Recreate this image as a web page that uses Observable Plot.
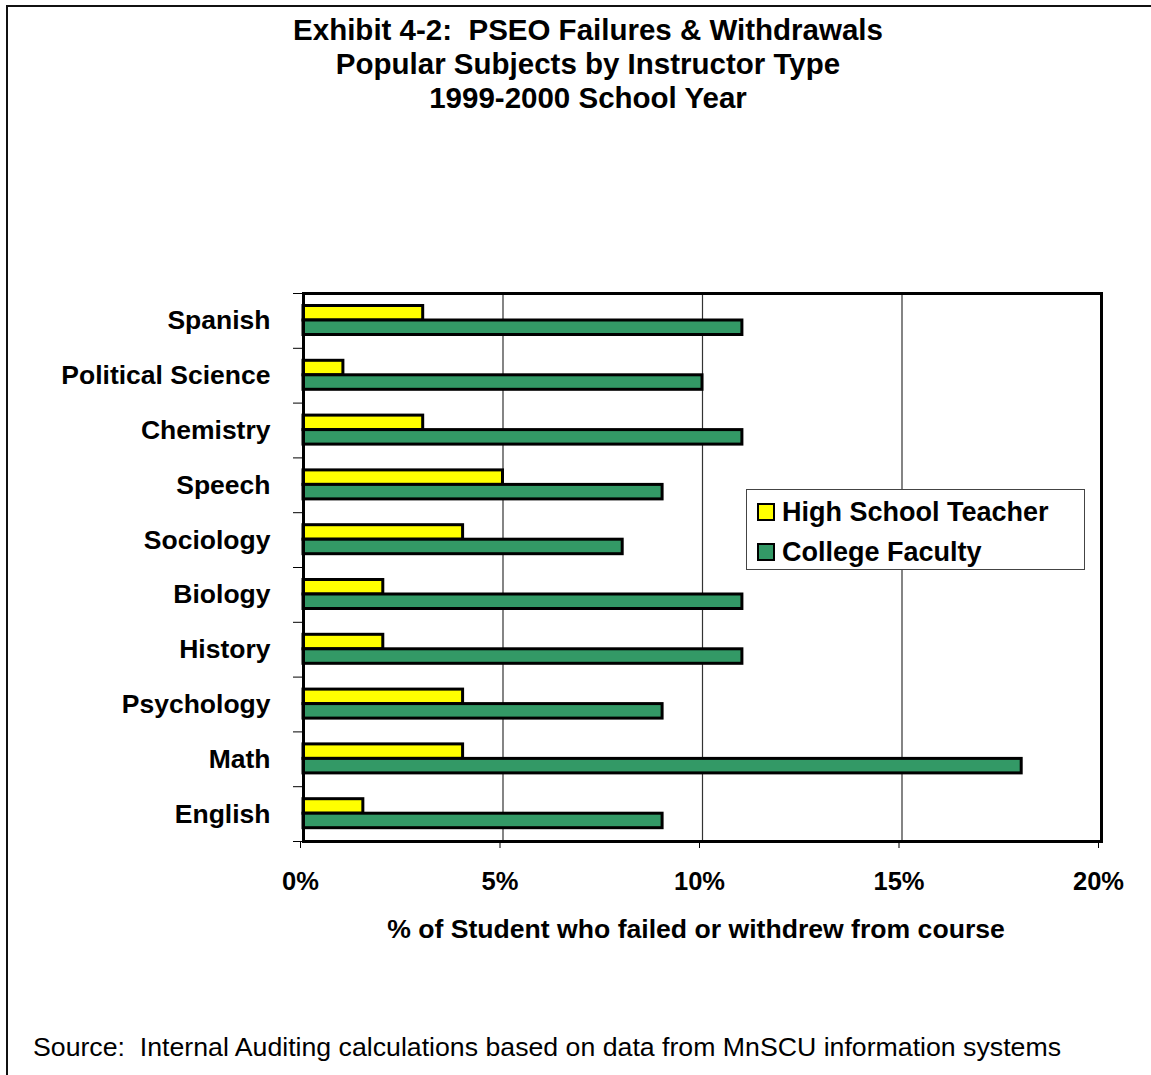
<!DOCTYPE html>
<html>
<head>
<meta charset="utf-8">
<script src="https://cdn.jsdelivr.net/npm/d3@7"></script>
<script src="https://cdn.jsdelivr.net/npm/@observablehq/plot@0.6"></script>
<style>
  html, body { margin: 0; padding: 0; background: #fff; overflow: hidden; }
  #page { position: relative; width: 1151px; height: 1075px; overflow: hidden; font-family: "Liberation Sans", Arial, sans-serif; }
  #border { position: absolute; left: 6px; top: 5px; width: 1300px; height: 1300px; border: 2px solid #111; box-sizing: border-box; }
  #title { position: absolute; left: 0; width: 1176px; top: 13px; text-align: center; font-weight: bold; font-size: 29.5px; line-height: 34px; color: #000; white-space: pre; }
  #chart { position: absolute; left: 0; top: 250px; }
  #legend { position: absolute; left: 746px; top: 489px; width: 339px; height: 81px; box-sizing: border-box; border: 1px solid #444; background: #fff; }
  .item { position: absolute; left: 10px; height: 30px; display: flex; align-items: center; font-weight: bold; font-size: 27px; color: #000; }
  .sw { width: 14px; height: 14px; border: 2.5px solid #000; margin-right: 7px; }
  #caption { position: absolute; left: 33px; top: 1032px; font-size: 26.7px; color: #000; white-space: pre; }
</style>
</head>
<body>
<div id="page">
  <div id="border"></div>
  <div id="title"></div>
  <div id="chart"></div>
  <div id="legend"></div>
  <div id="caption"></div>
</div>
<script>
const titleLines = ["Exhibit 4-2:  PSEO Failures & Withdrawals", "Popular Subjects by Instructor Type", "1999-2000 School Year"];
const categories = ["Spanish", "Political Science", "Chemistry", "Speech", "Sociology", "Biology", "History", "Psychology", "Math", "English"];
const highSchool = [3, 1, 3, 5, 4, 2, 2, 4, 4, 1.5];
const college = [11, 10, 11, 9, 8, 11, 11, 9, 18, 9];
const seriesNames = ["High School Teacher", "College Faculty"];
const seriesColors = ["#FFFF00", "#339966"];
const xTicks = [0, 5, 10, 15, 20];
const xLabel = "% of Student who failed or withdrew from course";
const caption = "Source:  Internal Auditing calculations based on data from MnSCU information systems";

document.getElementById("title").innerHTML = titleLines.map(t => `<div>${t.replace(/&/g, "&amp;")}</div>`).join("");
document.getElementById("caption").textContent = caption;

const legend = document.getElementById("legend");
seriesNames.forEach((name, i) => {
  const d = document.createElement("div");
  d.className = "item";
  d.style.top = (7 + i * 40) + "px";
  d.innerHTML = `<div class="sw" style="background:${seriesColors[i]}"></div><span>${name}</span>`;
  legend.appendChild(d);
});

const hsRows = categories.map((c, i) => ({cat: c, v: highSchool[i]}));
const cfRows = categories.map((c, i) => ({cat: c, v: college[i]}));

const W = 1151, H = 700;
const mT = 43, mB = 109, mL = 303, mR = 50;
const bw = (H - mT - mB) / categories.length;

const chart = Plot.plot({
  width: W, height: H,
  marginTop: mT, marginBottom: mB, marginLeft: mL, marginRight: mR,
  style: {fontFamily: "'Liberation Sans', Arial, sans-serif", fontWeight: "bold", fontSize: "26px", color: "#000", background: "transparent", overflow: "visible"},
  x: {domain: [0, 20]},
  y: {domain: categories, padding: 0, round: false},
  marks: [
    Plot.gridX(xTicks.slice(1, -1), {stroke: "#333", strokeOpacity: 1, strokeWidth: 1.2}),
    Plot.barX(hsRows, {x: "v", y: "cat", fill: seriesColors[0], stroke: "#000", strokeWidth: 3, insetTop: 12.5, insetBottom: bw - 27}),
    Plot.barX(cfRows, {x: "v", y: "cat", fill: seriesColors[1], stroke: "#000", strokeWidth: 3, insetTop: 27, insetBottom: bw - 41.5}),
    Plot.frame({stroke: "#000", strokeWidth: 3}),
    Plot.axisY({tickSize: 0, tickPadding: 33, fontSize: 26.5, fontWeight: "bold", label: null}),
    Plot.axisY({ticks: categories, tickSize: 10, text: null, dy: -bw / 2, label: null}),
    Plot.axisY({ticks: categories.slice(-1), tickSize: 10, text: null, dy: bw / 2, label: null}),
    Plot.axisX({ticks: xTicks, tickFormat: d => d + "%", tickSize: 7, tickPadding: 23, fontSize: 25.5, fontWeight: "bold", dx: -3, label: null}),
    Plot.text([xLabel], {text: d => d, frameAnchor: "bottom", dy: 88, dx: -6.5, lineAnchor: "middle", fontSize: 26.6, fontWeight: "bold"})
  ]
});
document.getElementById("chart").appendChild(chart);
</script>
</body>
</html>
